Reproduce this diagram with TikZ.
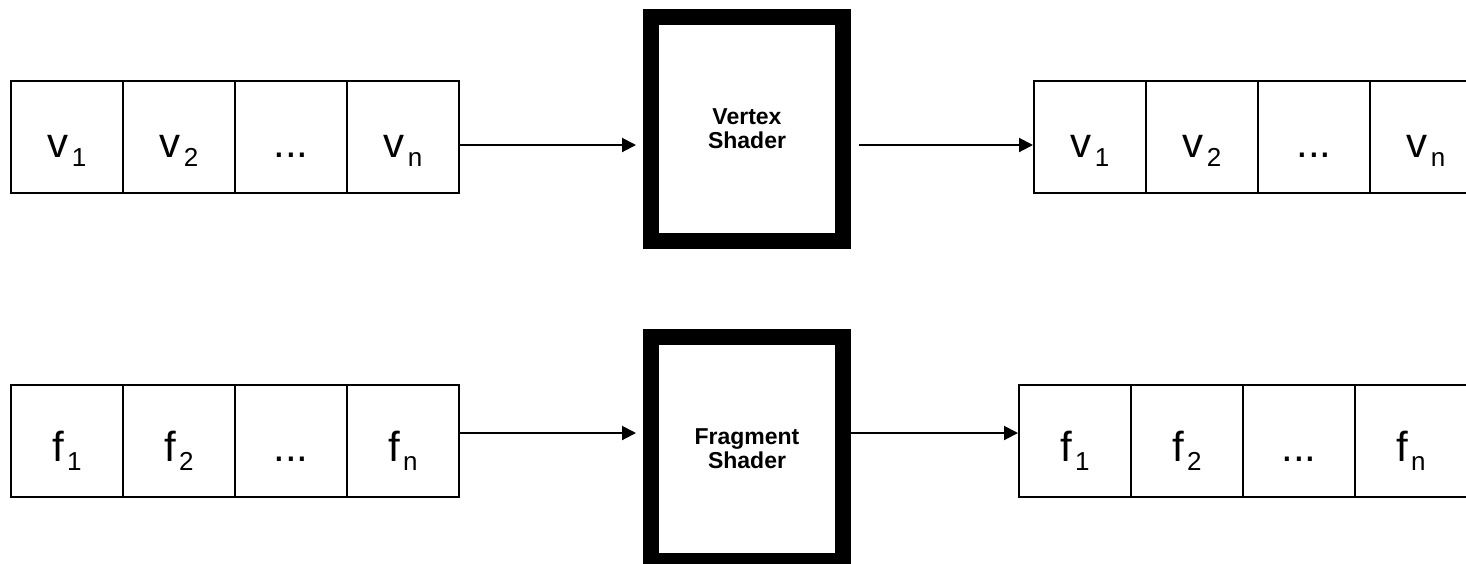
\documentclass[tikz,border=0pt]{standalone}
\usepackage{fontspec}
\setmainfont{Liberation Sans}
\usetikzlibrary{arrows.meta}
\newcommand{\sbs}[1]{\hspace{1.5pt}\raisebox{-4.5pt}{\fontsize{13pt}{13pt}\selectfont #1}}
\begin{document}
\begin{tikzpicture}[x=0.5pt,y=-0.5pt,
 cell/.style={draw, line width=1pt, minimum width=56pt, minimum height=56pt, inner sep=0pt, text height=20pt, text depth=0pt, font=\fontsize{21pt}{21pt}\selectfont},
 shader/.style={draw, line width=8pt, minimum width=96pt, minimum height=112pt, inner sep=0pt, align=center, font=\fontsize{11.5pt}{12pt}\selectfont\bfseries},
 arr/.style={line width=1pt, -{Triangle[length=7pt,width=7pt]}}]
\useasboundingbox (0,0) rectangle (1466,563);
% top row
\node[cell] (tl1) at (67,137) {v\sbs{1}};
\node[cell] (tl2) at (179,137) {v\sbs{2}};
\node[cell] (tl3) at (291,137) {...};
\node[cell] (tl4) at (403,137) {v\sbs{n}};
\node[shader] (vs) at (747,129) {Vertex\\Shader};
\node[cell] (tr1) at (1090,137) {v\sbs{1}};
\node[cell] (tr2) at (1202,137) {v\sbs{2}};
\node[cell] (tr3) at (1314,137) {...};
\node[cell] (tr4) at (1426,137) {v\sbs{n}};
% bottom row
\node[cell] (bl1) at (67,441) {f\sbs{1}};
\node[cell] (bl2) at (179,441) {f\sbs{2}};
\node[cell] (bl3) at (291,441) {...};
\node[cell] (bl4) at (403,441) {f\sbs{n}};
\node[shader] (fs) at (747,449) {Fragment\\Shader};
\node[cell] (br1) at (1075,441) {f\sbs{1}};
\node[cell] (br2) at (1187,441) {f\sbs{2}};
\node[cell] (br3) at (1299,441) {...};
\node[cell] (br4) at (1411,441) {f\sbs{n}};
% arrows
\coordinate (ya) at (0,145);
\coordinate (yb) at (0,433);
\draw[arr, shorten >=3.5pt] (tl4.east |- ya) -- (vs.west |- ya);
\draw[arr, shorten <=4pt] (vs.east |- ya) -- (tr1.west |- ya);
\draw[arr, shorten >=3.5pt] (bl4.east |- yb) -- (fs.west |- yb);
\draw[arr] (fs.east |- yb) -- (br1.west |- yb);
\end{tikzpicture}
\end{document}
